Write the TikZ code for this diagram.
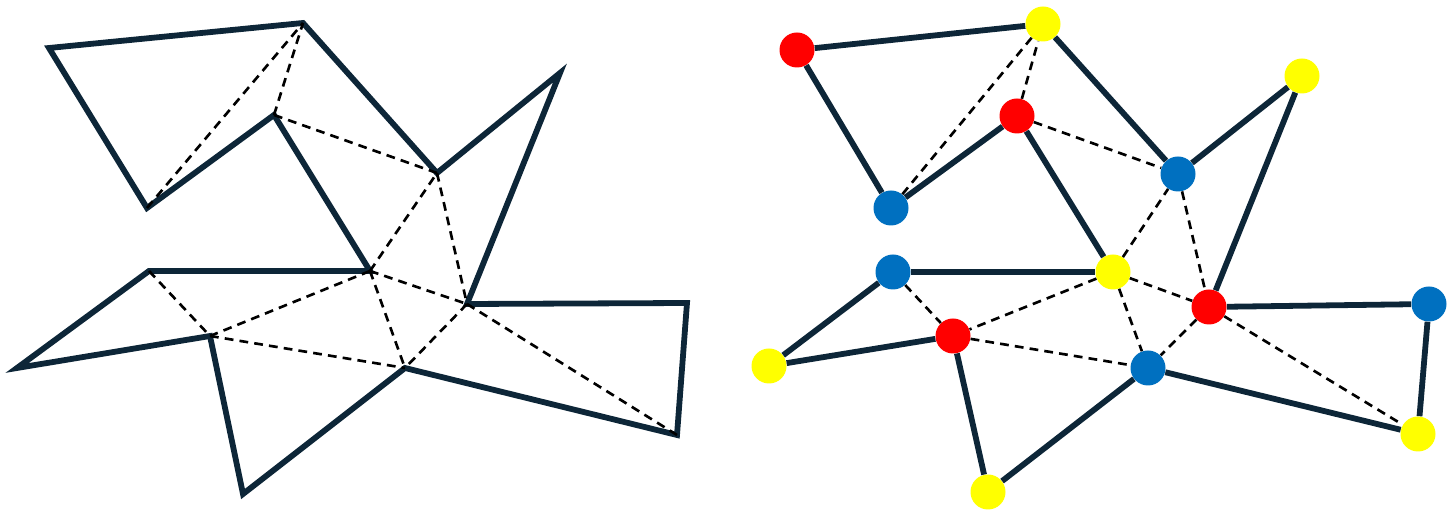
\documentclass[tikz,border=0pt]{standalone}
\usepackage{xcolor}
\usepackage{tikz}
\definecolor{polynavy}{RGB}{13,38,56}
\definecolor{colred}{RGB}{255,0,0}
\definecolor{colyellow}{RGB}{255,255,0}
\definecolor{colblue}{RGB}{0,112,192}

\begin{document}
\begin{tikzpicture}[
  x=0.2mm,y=-0.2mm,
  edge/.style={draw=polynavy,line width=3.3pt,line join=miter},
  diag/.style={draw=black,line width=1.5pt,dash pattern=on 5pt off 3.5pt},
  guard/.style={circle,inner sep=0pt,minimum size=7mm,draw=none}
]
\useasboundingbox (0,0) rectangle (1456,528);

% left: polygon and its triangulation
\foreach \n/\x/\y in {a/49/48,b/303/23,c/437/173,d/560/73,e/467/304,f/687/303,g/677/435,h/405/368,
  i/243/494,j/210/336,k/17/368,l/149/271,m/370/271,n/274/115,o/147/208}
  \coordinate (l\n) at (\x,\y);

\draw[edge] (la) -- (lb) -- (lc) -- (ld) -- (le) -- (lf) -- (lg) -- (lh)
  -- (li) -- (lj) -- (lk) -- (ll) -- (lm) -- (ln) -- (lo) -- cycle;
\foreach \u/\v in {o/b,n/b,n/c,m/c,c/e,m/e,m/h,e/h,e/g,m/j,l/j,j/h}
  \draw[diag] (l\u) -- (l\v);

% right: the same polygon, 3-coloured
\foreach \n/\x/\y/\c in {a/797/50/colred,b/1043/24/colyellow,c/1178/174/colblue,d/1302/76/colyellow,
  e/1209/307/colred,f/1429/304/colblue,g/1418/434/colyellow,h/1148/368/colblue,
  i/988/492/colyellow,j/953/336/colred,k/769/366/colyellow,l/893/272/colblue,
  m/1113/272/colyellow,n/1017/116/colred,o/891/208/colblue}
  \node[guard,fill=\c] (r\n) at (\x,\y) {};

\foreach \u/\v in {a/b,b/c,c/d,d/e,e/f,f/g,g/h,h/i,i/j,j/k,k/l,l/m,m/n,n/o,o/a}
  \draw[edge] (r\u) -- (r\v);
\foreach \u/\v in {o/b,n/b,n/c,m/c,c/e,m/e,m/h,e/h,e/g,m/j,l/j,j/h}
  \draw[diag] (r\u) -- (r\v);
\end{tikzpicture}
\end{document}
